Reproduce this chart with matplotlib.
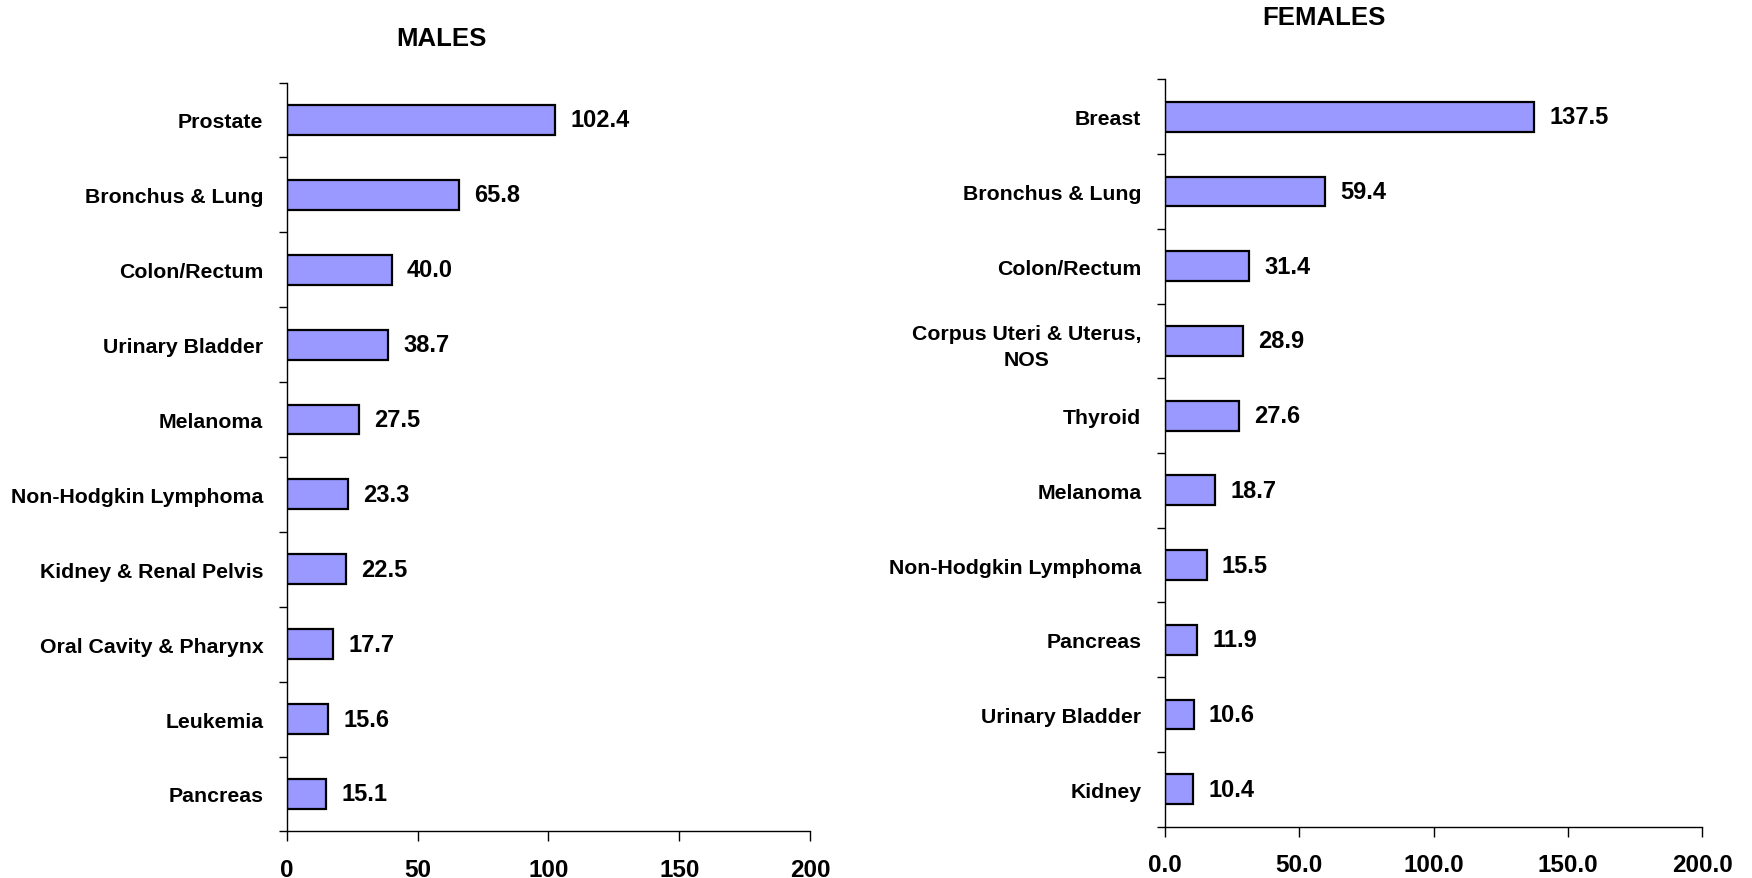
import matplotlib.pyplot as plt
import numpy as np

# incidence rates per 100,000
male_sites = ['Prostate', 'Bronchus & Lung', 'Colon/Rectum', 'Urinary Bladder', 'Melanoma',
              'Non-Hodgkin Lymphoma', 'Kidney & Renal Pelvis', 'Oral Cavity & Pharynx',
              'Leukemia', 'Pancreas']
male_rates = [102.4, 65.8, 40.0, 38.7, 27.5, 23.3, 22.5, 17.7, 15.6, 15.1]

female_sites = ['Breast', 'Bronchus & Lung', 'Colon/Rectum', 'Corpus Uteri & Uterus,\nNOS',
                'Thyroid', 'Melanoma', 'Non-Hodgkin Lymphoma', 'Pancreas', 'Urinary Bladder',
                'Kidney']
female_rates = [137.5, 59.4, 31.4, 28.9, 27.6, 18.7, 15.5, 11.9, 10.6, 10.4]

x_ticks = [0, 50, 100, 150, 200]

plt.rcParams['font.family'] = ['Liberation Sans', 'DejaVu Sans']
plt.rcParams['font.weight'] = 'bold'

fig = plt.figure(figsize=(17.52, 8.79), dpi=100)
ax_m = fig.add_axes([0.1638, 0.053, 0.2985, 0.852])
ax_f = fig.add_axes([0.665, 0.0585, 0.3065, 0.850])


def draw_panel(ax, sites, rates, title, fmt, title_y):
    n = len(sites)
    y = np.arange(n)
    bars = ax.barh(y, rates, height=0.4, color='#9999FF', edgecolor='black', linewidth=1.6)
    ax.bar_label(bars, labels=['%.1f' % r for r in rates], padding=11, fontsize=17, fontweight='bold')
    ax.set_ylim(n - 0.5, -0.5)
    ax.set_xlim(0, 200)
    ax.set_yticks(y)
    ax.set_yticklabels(sites, fontsize=15.3, fontweight='bold', linespacing=1.45)
    ax.set_yticks(np.arange(n + 1) - 0.5, minor=True)
    ax.tick_params(axis='y', which='major', length=0, pad=17)
    ax.tick_params(axis='y', which='minor', length=6, width=1, direction='out')
    ax.set_xticks(x_ticks)
    ax.set_xticklabels([fmt % t for t in x_ticks], fontsize=17.5, fontweight='bold')
    ax.tick_params(axis='x', length=7, width=1, direction='out', pad=12)
    ax.spines['top'].set_visible(False)
    ax.spines['right'].set_visible(False)
    ax.spines['left'].set_linewidth(1)
    ax.spines['bottom'].set_linewidth(1)
    for lbl in ax.get_yticklabels():
        lbl.set_horizontalalignment('right')
        lbl.set_multialignment('center')
    fig.text(ax.get_position().x0 + ax.get_position().width * 0.295, title_y, title,
             ha='center', va='center', fontsize=18.5, fontweight='bold')


draw_panel(ax_m, male_sites, male_rates, 'MALES', '%d', 0.956)
draw_panel(ax_f, female_sites, female_rates, 'FEMALES', '%.1f', 0.980)

fig.savefig('out.png', dpi=100)
